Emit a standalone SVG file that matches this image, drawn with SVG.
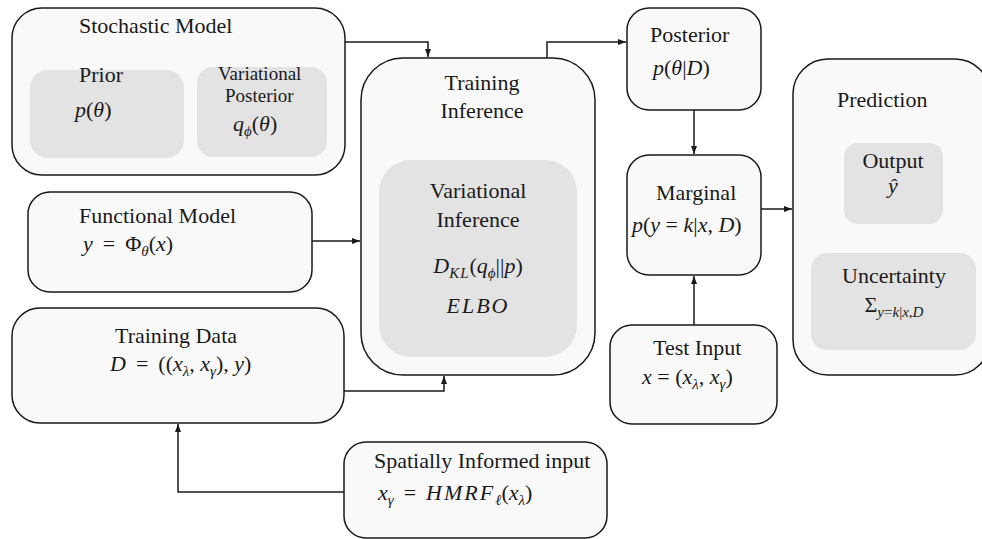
<svg xmlns="http://www.w3.org/2000/svg" width="982" height="539" viewBox="0 0 982 539">
<style>
.box{fill:#f9f9f9;stroke:#1a1a1a;stroke-width:1.5}
.inner{fill:#e3e3e3;stroke:none}
.t{font-family:'Liberation Serif','Times New Roman',serif;font-size:22px;fill:#1a1a1a}
.m{font-family:'Liberation Serif','Times New Roman',serif;font-size:22px;font-style:italic;fill:#1a1a1a}
.c{text-anchor:middle}
.sub{font-size:15px}
.up{font-style:normal}
.conn{fill:none;stroke:#1a1a1a;stroke-width:1.5}
</style>
<defs>
<marker id="arr" markerWidth="8" markerHeight="6" refX="8" refY="3" orient="auto" markerUnits="userSpaceOnUse">
<path d="M0,0 L8,3 L0,6 z" fill="#1a1a1a"/>
</marker>
</defs>

<g id="connectors">
<path class="conn" d="M345,42 H428 V57" marker-end="url(#arr)"/>
<path class="conn" d="M312,241 H360" marker-end="url(#arr)"/>
<path class="conn" d="M344,391 H444 V376" marker-end="url(#arr)"/>
<path class="conn" d="M344,492 H178 V424" marker-end="url(#arr)"/>
<path class="conn" d="M547,58 V42 H626" marker-end="url(#arr)"/>
<path class="conn" d="M694,110 V154" marker-end="url(#arr)"/>
<path class="conn" d="M694,325 V276" marker-end="url(#arr)"/>
<path class="conn" d="M761,209 H792" marker-end="url(#arr)"/>
</g>

<g id="stochastic-model">
<rect class="box" x="12" y="8" width="333" height="167" rx="30"/>
<text class="t" x="79" y="33">Stochastic Model</text>
<g id="prior">
<rect class="inner" x="30" y="70" width="154" height="88" rx="18"/>
<text class="t" x="79" y="82">Prior</text>
<text class="m" x="75" y="117">p<tspan class="up">(</tspan>θ<tspan class="up">)</tspan></text>
</g>
<g id="variational-posterior">
<rect class="inner" x="197" y="67" width="130" height="90" rx="16"/>
<text class="t" x="218" y="80" style="font-size:19px">Variational</text>
<text class="t" x="225" y="102" style="font-size:19px">Posterior</text>
<text class="m" x="233" y="131">q<tspan class="sub" dy="5">ϕ</tspan><tspan class="up" dy="-5">(</tspan>θ<tspan class="up">)</tspan></text>
</g>
</g>

<g id="functional-model">
<rect class="box" x="28" y="192" width="284" height="100" rx="22"/>
<text class="t" x="79" y="223">Functional Model</text>
<text class="m" x="83" y="251">y<tspan class="up" dx="10">=</tspan><tspan class="up" dx="10">Φ</tspan><tspan class="sub" dy="5">θ</tspan><tspan class="up" dy="-5">(</tspan>x<tspan class="up">)</tspan></text>
</g>

<g id="training-data">
<rect class="box" x="12" y="308" width="332" height="115" rx="28"/>
<text class="t" x="115" y="343">Training Data</text>
<text class="m" x="110" y="371">D<tspan class="up" dx="10">=</tspan><tspan class="up" dx="10">((</tspan>x<tspan class="sub" dy="5">λ</tspan><tspan class="up" dy="-5">, </tspan>x<tspan class="sub" dy="5">γ</tspan><tspan class="up" dy="-5">), </tspan>y<tspan class="up">)</tspan></text>
</g>

<g id="spatially-informed-input">
<rect class="box" x="344" y="442" width="263" height="96" rx="22"/>
<text class="t" x="374" y="468">Spatially Informed input</text>
<text class="m" x="378" y="500">x<tspan class="sub" dy="5">γ</tspan><tspan class="up" dy="-5" dx="10">=</tspan><tspan dx="10" letter-spacing="2">HMRF</tspan><tspan class="sub" dy="5">ℓ</tspan><tspan class="up" dy="-5">(</tspan>x<tspan class="sub" dy="5">λ</tspan><tspan class="up" dy="-5">)</tspan></text>
</g>

<g id="training-inference">
<rect class="box" x="361" y="58" width="234" height="317" rx="42"/>
<text class="t c" x="482" y="90">Training</text>
<text class="t c" x="482" y="118">Inference</text>
<g id="variational-inference">
<rect class="inner" x="379" y="160" width="198" height="197" rx="32"/>
<text class="t c" x="478" y="198">Variational</text>
<text class="t c" x="478" y="227">Inference</text>
<text class="m c" x="478" y="273">D<tspan class="sub" dy="5" letter-spacing="1">KL</tspan><tspan class="up" dy="-5">(</tspan>q<tspan class="sub" dy="5">ϕ</tspan><tspan class="up" dy="-5">||</tspan>p<tspan class="up">)</tspan></text>
<text class="m c" x="478" y="313" letter-spacing="2">ELBO</text>
</g>
</g>

<g id="posterior">
<rect class="box" x="627" y="8" width="134" height="102" rx="22"/>
<text class="t" x="650" y="42">Posterior</text>
<text class="m" x="653" y="75">p<tspan class="up">(</tspan>θ<tspan class="up">|</tspan>D<tspan class="up">)</tspan></text>
</g>

<g id="marginal">
<rect class="box" x="627" y="155" width="134" height="120" rx="22"/>
<text class="t" x="656" y="200">Marginal</text>
<text class="m" x="632" y="232">p<tspan class="up">(</tspan>y<tspan class="up"> = </tspan>k<tspan class="up">|</tspan>x<tspan class="up">, </tspan>D<tspan class="up">)</tspan></text>
</g>

<g id="test-input">
<rect class="box" x="610" y="325" width="167" height="99" rx="22"/>
<text class="t" x="653" y="355">Test Input</text>
<text class="m" x="642" y="384">x<tspan class="up"> = (</tspan>x<tspan class="sub" dy="5">λ</tspan><tspan class="up" dy="-5">, </tspan>x<tspan class="sub" dy="5">γ</tspan><tspan class="up" dy="-5">)</tspan></text>
</g>

<g id="prediction">
<rect class="box" x="793" y="59" width="197" height="316" rx="35"/>
<text class="t" x="837" y="107">Prediction</text>
<g id="output">
<rect class="inner" x="844" y="143" width="99" height="81" rx="14"/>
<text class="t c" x="893" y="168">Output</text>
<text class="m c" x="893" y="193">ŷ</text>
</g>
<g id="uncertainty">
<rect class="inner" x="811" y="253" width="165" height="97" rx="16"/>
<text class="t c" x="894" y="283">Uncertainty</text>
<text class="t c" x="894" y="312">Σ<tspan class="sub m" dy="5">y<tspan class="up">=</tspan>k<tspan class="up">|</tspan>x<tspan class="up">,</tspan>D</tspan></text>
</g>
</g>
</svg>
